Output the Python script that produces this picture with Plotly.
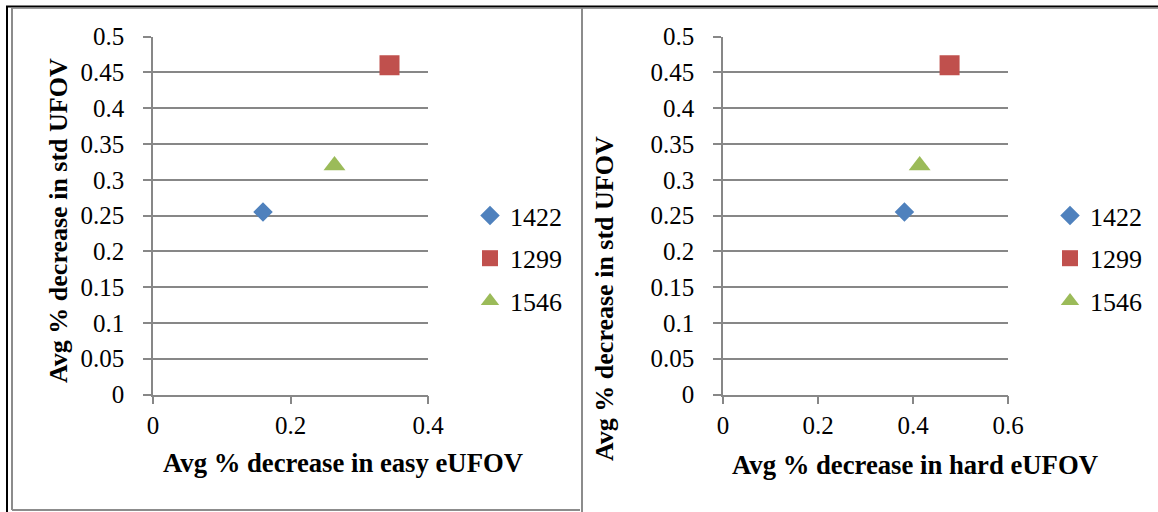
import plotly.graph_objects as go

# Subjects and their average percentage decreases
subjects = ["1422", "1299", "1546"]
easy_eufov = [0.16, 0.344, 0.264]
hard_eufov = [0.382, 0.477, 0.414]
std_ufov = [0.255, 0.46, 0.32]

colors = ["#4F81BD", "#C0504D", "#9BBB59"]
symbols = ["diamond", "square", "triangle-up"]
sizes = [15, 20, 19]

y_ticks = [0, 0.05, 0.1, 0.15, 0.2, 0.25, 0.3, 0.35, 0.4, 0.45, 0.5]
y_ticktext = ["0", "0.05", "0.1", "0.15", "0.2", "0.25", "0.3", "0.35", "0.4", "0.45", "0.5"]
x_ticks_left = [0, 0.2, 0.4]
x_ticktext_left = ["0", "0.2", "0.4"]
x_ticks_right = [0, 0.2, 0.4, 0.6]
x_ticktext_right = ["0", "0.2", "0.4", "0.6"]

W, H = 1158, 512
FONT = "Liberation Serif, Times New Roman, serif"
GRID = "#878787"


def px(v):
    return v / W


def py(v):
    return 1 - v / H


fig = go.Figure()
for i, name in enumerate(subjects):
    fig.add_trace(go.Scatter(
        x=[easy_eufov[i]], y=[std_ufov[i]], mode="markers", name=name,
        marker=dict(symbol=symbols[i], size=sizes[i], color=colors[i]),
        xaxis="x", yaxis="y", legend="legend", legendgroup="a" + name,
    ))
for i, name in enumerate(subjects):
    fig.add_trace(go.Scatter(
        x=[hard_eufov[i]], y=[std_ufov[i]], mode="markers", name=name,
        marker=dict(symbol=symbols[i], size=sizes[i], color=colors[i]),
        xaxis="x2", yaxis="y2", legend="legend2", legendgroup="b" + name,
    ))

y_top, y_bot = 36.7, 394.5
common_y = dict(
    range=[0, 0.5], tickvals=y_ticks, ticktext=y_ticktext,
    showgrid=True, gridcolor=GRID, gridwidth=1.5, zeroline=False,
    showline=True, linecolor=GRID, linewidth=1.5,
    ticks="outside", ticklen=8, tickcolor=GRID, tickwidth=1.5,
    ticklabelstandoff=14,
    tickfont=dict(family=FONT, size=25, color="black"),
    domain=[py(y_bot), py(y_top)], fixedrange=True,
)
common_x = dict(
    showgrid=False, zeroline=False,
    showline=True, linecolor=GRID, linewidth=1.5,
    ticks="outside", ticklen=8, tickcolor=GRID, tickwidth=1.5,
    ticklabelstandoff=0,
    tickfont=dict(family=FONT, size=25, color="black"),
    fixedrange=True,
)

legend_common = dict(
    font=dict(family=FONT, size=26, color="black"),
    bgcolor="rgba(0,0,0,0)", borderwidth=0,
    xanchor="left", yanchor="top", tracegroupgap=6,
    itemclick=False, itemdoubleclick=False,
)

title_font_x = dict(family=FONT, size=26.7, color="black")
title_font_y = dict(family=FONT, size=26, color="black")

fig.update_layout(
    width=W, height=H,
    margin=dict(l=0, r=0, t=0, b=0, autoexpand=False),
    paper_bgcolor="white", plot_bgcolor="white",
    showlegend=True,
    xaxis=dict(range=[0, 0.4], tickvals=x_ticks_left, ticktext=x_ticktext_left,
               domain=[px(153), px(428)], anchor="y", **common_x),
    yaxis=dict(anchor="x", **common_y),
    xaxis2=dict(range=[0, 0.6], tickvals=x_ticks_right, ticktext=x_ticktext_right,
                domain=[px(723), px(1008)], anchor="y2", **common_x),
    yaxis2=dict(anchor="x2", **common_y),
    legend=dict(x=px(470), y=py(192), **legend_common),
    legend2=dict(x=px(1050), y=py(192), **legend_common),
    annotations=[
        dict(text="<b>Avg % decrease in easy eUFOV</b>", x=px(342.5), y=py(463),
             xref="paper", yref="paper", showarrow=False, font=title_font_x,
             xanchor="center", yanchor="middle"),
        dict(text="<b>Avg % decrease in hard eUFOV</b>", x=px(915), y=py(465),
             xref="paper", yref="paper", showarrow=False, font=title_font_x,
             xanchor="center", yanchor="middle"),
        dict(text="<b>Avg % decrease in std UFOV</b>", x=px(58), y=py(221),
             xref="paper", yref="paper", showarrow=False, font=title_font_y,
             textangle=-90, xanchor="center", yanchor="middle"),
        dict(text="<b>Avg % decrease in std UFOV</b>", x=px(604), y=py(299),
             xref="paper", yref="paper", showarrow=False, font=title_font_y,
             textangle=-90, xanchor="center", yanchor="middle"),
    ],
    shapes=[
        # outer frame: black rule along top and left edge
        dict(type="line", xref="paper", yref="paper", x0=px(6), x1=1, y0=py(6.5), y1=py(6.5),
             line=dict(color="black", width=2)),
        dict(type="line", xref="paper", yref="paper", x0=px(12), x1=1, y0=py(8.5), y1=py(8.5),
             line=dict(color="#9a9a9a", width=1)),
        dict(type="line", xref="paper", yref="paper", x0=px(7), x1=px(7), y0=py(6), y1=0,
             line=dict(color="black", width=2)),
        # inner grey frame of the left panel
        dict(type="line", xref="paper", yref="paper", x0=px(12), x1=px(12), y0=py(8), y1=py(510),
             line=dict(color="#8c8c8c", width=2)),
        dict(type="line", xref="paper", yref="paper", x0=px(12), x1=px(580), y0=py(510), y1=py(510),
             line=dict(color="#8c8c8c", width=2)),
        # divider between panels
        dict(type="line", xref="paper", yref="paper", x0=px(582), x1=px(582), y0=py(8), y1=0,
             line=dict(color="#8c8c8c", width=2)),
    ],
)

fig.write_html("out.html")
